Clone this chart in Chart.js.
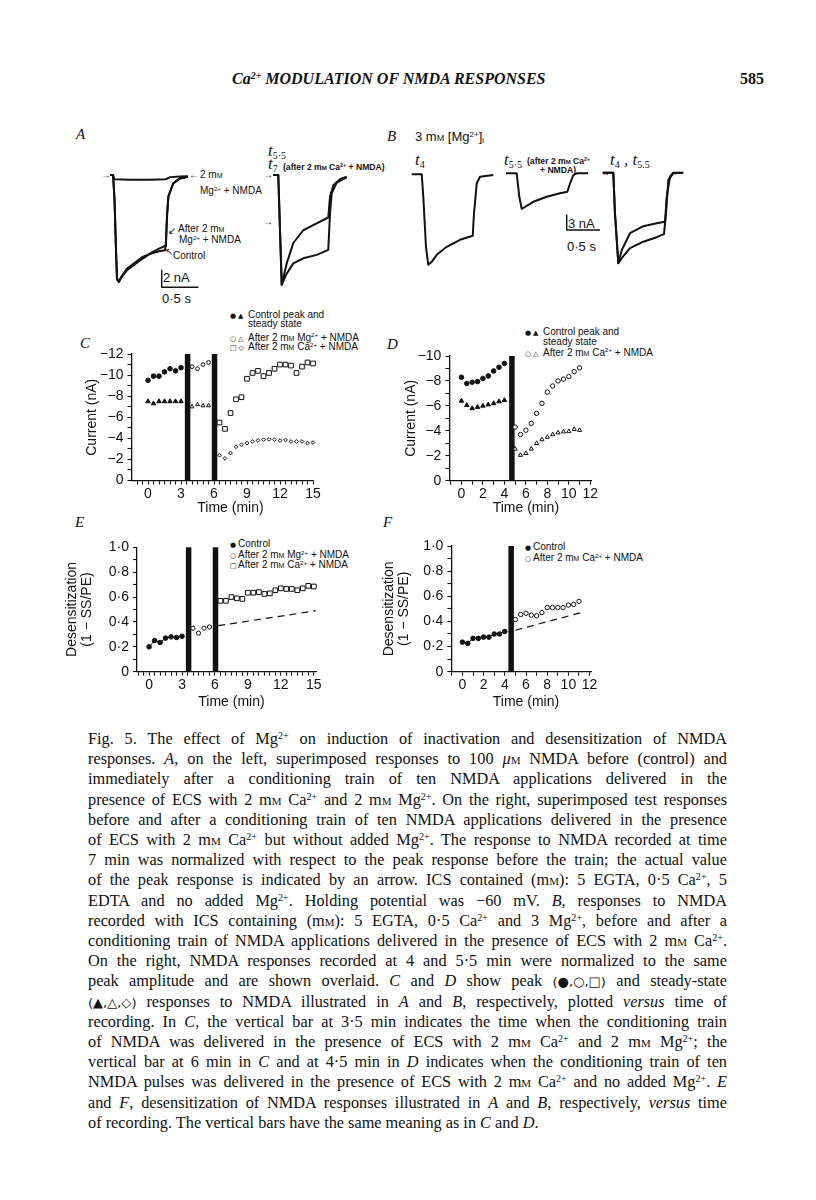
<!DOCTYPE html>
<html>
<head>
<meta charset="utf-8">
<script src="https://cdn.jsdelivr.net/npm/chart.js@4.4.1/dist/chart.umd.min.js"></script>
<style>
  body { margin: 0; background: #fff; }
  #page { position: relative; width: 816px; height: 1200px; overflow: hidden; color: #111;
          font-family: "Liberation Sans", Arial, sans-serif; }
  canvas { position: absolute; }
  .t { position: absolute; white-space: nowrap; line-height: 1; transform: translateY(-50%); }
  sup { font-size: 0.62em; vertical-align: 0; position: relative; top: -0.5em; }
  sub { font-size: 0.62em; vertical-align: 0; position: relative; top: 0.3em; }
  .sc { font-variant: small-caps; }
  .hd { font: italic bold 16px "Liberation Serif", serif; }
  .pg { font: bold 16px "Liberation Serif", serif; }
  .pl { font: italic 15px "Liberation Serif", serif; }
  .ti { font: italic 17px "Liberation Serif", serif; }
  .ti sub { font-size: 10px; font-style: normal; }
  .an { font-size: 10px; }
  .sm { font-size: 8.6px; font-weight: bold; }
  .sb { font-size: 13px; }
  .lg { font-size: 10px; }
  .sy { font-family: "DejaVu Sans", sans-serif; font-size: 7px; letter-spacing: 2px; }
  .cl { position: absolute; left: 88px; width: 639px; font: 16.3px "Liberation Serif", serif;
        text-align: justify; text-align-last: justify; line-height: 1; transform: translateY(-50%); }
  .cl.last { text-align-last: left; }
  .nb { display: inline-block; font-family: "DejaVu Sans", sans-serif; font-size: 0.8em; }
</style>
</head>
<body>
<div id="page">
  <div class="t hd" style="left:232px;top:79px">Ca<sup>2+</sup> MODULATION OF NMDA RESPONSES</div>
  <div class="t pg" style="left:740px;top:79px">585</div>

  <div class="t pl" style="left:76px;top:134px">A</div>
  <div class="t pl" style="left:387px;top:136px">B</div>
  <div class="t pl" style="left:80px;top:343px">C</div>
  <div class="t pl" style="left:387px;top:344px">D</div>
  <div class="t pl" style="left:75px;top:522px">E</div>
  <div class="t pl" style="left:383px;top:522px">F</div>

  <!-- panel A annotations -->
  <div class="t an" style="left:101px;top:175px">→</div>
  <div class="t an" style="left:189px;top:175px">←</div>
  <div class="t an" style="left:200px;top:175px">2 m<span class="sc">m</span></div>
  <div class="t an" style="left:200px;top:191px">Mg<sup>2+</sup> + NMDA</div>
  <div class="t an" style="left:168px;top:231px">↙</div>
  <div class="t an" style="left:178px;top:229px">After 2 m<span class="sc">m</span></div>
  <div class="t an" style="left:179px;top:240px">Mg<sup>2+</sup> + NMDA</div>
  <div class="t an" style="left:165px;top:252px">↖</div>
  <div class="t an" style="left:173px;top:256px">Control</div>
  <div class="t sb" style="left:163px;top:277px">2 nA</div>
  <div class="t sb" style="left:162px;top:298px">0·5 s</div>
  <div class="t ti" style="left:268px;top:151px">t<sub>5·5</sub></div>
  <div class="t ti" style="left:268px;top:164px">t<sub>7</sub></div>
  <div class="t sm" style="left:283px;top:167px">(after 2 m<span class="sc">m</span> Ca<sup>2+</sup> + NMDA)</div>
  <div class="t an" style="left:263px;top:175px">→</div>
  <div class="t an" style="left:263px;top:222px">→</div>

  <!-- panel B annotations -->
  <div class="t sb" style="left:415px;top:137px">3 m<span class="sc">m</span> [Mg<sup>2+</sup>]<sub>i</sub></div>
  <div class="t ti" style="left:415px;top:160px">t<sub>4</sub></div>
  <div class="t ti" style="left:504px;top:160px">t<sub>5·5</sub></div>
  <div class="t sm" style="left:527px;top:160.5px">(after 2 m<span class="sc">m</span> Ca<sup>2+</sup></div>
  <div class="t sm" style="left:540px;top:169.5px">+ NMDA)</div>
  <div class="t ti" style="left:610px;top:160px">t<sub>4</sub> , t<sub>5.5</sub></div>
  <div class="t an" style="left:600px;top:173px">→</div>
  <div class="t sb" style="left:568px;top:223px">3 nA</div>
  <div class="t sb" style="left:567px;top:246px">0·5 s</div>

  <!-- legends -->
  <div class="t lg" style="left:230px;top:315px"><span class="sy">●▲</span></div>
  <div class="t lg" style="left:248px;top:315px">Control peak and</div>
  <div class="t lg" style="left:248px;top:324px">steady state</div>
  <div class="t lg" style="left:230px;top:337.5px"><span class="sy">○△</span></div>
  <div class="t lg" style="left:248px;top:337.5px">After 2 m<span class="sc">m</span> Mg<sup>2+</sup> + NMDA</div>
  <div class="t lg" style="left:230px;top:347px"><span class="sy">□◇</span></div>
  <div class="t lg" style="left:248px;top:347px">After 2 m<span class="sc">m</span> Ca<sup>2+</sup> + NMDA</div>

  <div class="t lg" style="left:525px;top:332px"><span class="sy">●▲</span></div>
  <div class="t lg" style="left:543px;top:332px">Control peak and</div>
  <div class="t lg" style="left:543px;top:342px">steady state</div>
  <div class="t lg" style="left:525px;top:352.5px"><span class="sy">○△</span></div>
  <div class="t lg" style="left:543px;top:352.5px">After 2 m<span class="sc">m</span> Ca<sup>2+</sup> + NMDA</div>

  <div class="t lg" style="left:230px;top:544px"><span class="sy">●</span></div>
  <div class="t lg" style="left:238px;top:544px">Control</div>
  <div class="t lg" style="left:230px;top:555px"><span class="sy">○</span></div>
  <div class="t lg" style="left:238px;top:555px">After 2 m<span class="sc">m</span> Mg<sup>2+</sup> + NMDA</div>
  <div class="t lg" style="left:230px;top:565px"><span class="sy">□</span></div>
  <div class="t lg" style="left:238px;top:565px">After 2 m<span class="sc">m</span> Ca<sup>2+</sup> + NMDA</div>

  <div class="t lg" style="left:525px;top:547px"><span class="sy">●</span></div>
  <div class="t lg" style="left:533px;top:547px">Control</div>
  <div class="t lg" style="left:525px;top:558px"><span class="sy">○</span></div>
  <div class="t lg" style="left:533px;top:558px">After 2 m<span class="sc">m</span> Ca<sup>2+</sup> + NMDA</div>

  <canvas id="a1"></canvas><canvas id="a2"></canvas>
  <canvas id="b1"></canvas><canvas id="b2"></canvas><canvas id="b3"></canvas>
  <canvas id="cC"></canvas><canvas id="cD"></canvas><canvas id="cE"></canvas><canvas id="cF"></canvas>

  <!-- caption -->
  <div class="cl" style="top:739px">Fig. 5. The effect of Mg<sup>2+</sup> on induction of inactivation and desensitization of NMDA</div>
  <div class="cl" style="top:759.2px">responses. <i>A</i>, on the left, superimposed responses to 100 <i>μ</i><span class="sc">m</span> NMDA before (control) and</div>
  <div class="cl" style="top:779.4px">immediately after a conditioning train of ten NMDA applications delivered in the</div>
  <div class="cl" style="top:799.6px">presence of ECS with 2 m<span class="sc">m</span> Ca<sup>2+</sup> and 2 m<span class="sc">m</span> Mg<sup>2+</sup>. On the right, superimposed test responses</div>
  <div class="cl" style="top:819.8px">before and after a conditioning train of ten NMDA applications delivered in the presence</div>
  <div class="cl" style="top:840px">of ECS with 2 m<span class="sc">m</span> Ca<sup>2+</sup> but without added Mg<sup>2+</sup>. The response to NMDA recorded at time</div>
  <div class="cl" style="top:860.2px">7 min was normalized with respect to the peak response before the train; the actual value</div>
  <div class="cl" style="top:880.4px">of the peak response is indicated by an arrow. ICS contained (m<span class="sc">m</span>): 5 EGTA, 0·5 Ca<sup>2+</sup>, 5</div>
  <div class="cl" style="top:900.6px">EDTA and no added Mg<sup>2+</sup>. Holding potential was −60 mV. <i>B</i>, responses to NMDA</div>
  <div class="cl" style="top:920.8px">recorded with ICS containing (m<span class="sc">m</span>): 5 EGTA, 0·5 Ca<sup>2+</sup> and 3 Mg<sup>2+</sup>, before and after a</div>
  <div class="cl" style="top:941px">conditioning train of NMDA applications delivered in the presence of ECS with 2 m<span class="sc">m</span> Ca<sup>2+</sup>.</div>
  <div class="cl" style="top:961.2px">On the right, NMDA responses recorded at 4 and 5·5 min were normalized to the same</div>
  <div class="cl" style="top:981.4px">peak amplitude and are shown overlaid. <i>C</i> and <i>D</i> show peak <span class="nb">(●,○,□)</span> and steady-state</div>
  <div class="cl" style="top:1001.6px"><span class="nb">(▲,△,◇)</span> responses to NMDA illustrated in <i>A</i> and <i>B</i>, respectively, plotted <i>versus</i> time of</div>
  <div class="cl" style="top:1021.8px">recording. In <i>C</i>, the vertical bar at 3·5 min indicates the time when the conditioning train</div>
  <div class="cl" style="top:1042px">of NMDA was delivered in the presence of ECS with 2 m<span class="sc">m</span> Ca<sup>2+</sup> and 2 m<span class="sc">m</span> Mg<sup>2+</sup>; the</div>
  <div class="cl" style="top:1062.2px">vertical bar at 6 min in <i>C</i> and at 4·5 min in <i>D</i> indicates when the conditioning train of ten</div>
  <div class="cl" style="top:1082.4px">NMDA pulses was delivered in the presence of ECS with 2 m<span class="sc">m</span> Ca<sup>2+</sup> and no added Mg<sup>2+</sup>. <i>E</i></div>
  <div class="cl" style="top:1102.6px">and <i>F</i>, desensitization of NMDA responses illustrated in <i>A</i> and <i>B</i>, respectively, <i>versus</i> time</div>
  <div class="cl last" style="top:1122.8px">of recording. The vertical bars have the same meaning as in <i>C</i> and <i>D</i>.</div>
</div>

<script>
// ---- current traces, [time (s), current (nA)] ----
const aControl = [[0.07,0],[0.11,0],[0.13,-2.9],[0.15,-8.8],[0.164,-12.3],[0.19,-12.6],[0.22,-12.1],[0.3,-11.2],[0.41,-10.5],[0.52,-9.8],[0.64,-9.1],[0.75,-8.6],[0.82,-8.35],[0.832,-7.6],[0.846,-4.7],[0.864,-2.55],[0.93,-1.0],[1.02,-0.4],[1.13,-0.2]];
const aAfterMg = [[0.07,0],[0.11,0],[0.13,-2.9],[0.15,-8.8],[0.164,-12.2],[0.19,-12.5],[0.22,-12.0],[0.3,-11.0],[0.41,-10.3],[0.52,-9.6],[0.64,-9.2],[0.75,-8.95],[0.82,-8.85],[0.834,-7.6],[0.848,-4.7],[0.866,-2.5],[0.93,-1.0],[1.02,-0.4],[1.13,-0.2]];
const aMgNmda = [[0.07,0],[0.11,0],[0.125,-0.5],[0.35,-0.55],[0.6,-0.55],[0.83,-0.5],[0.89,-0.25],[1.02,-0.18],[1.13,-0.15]];
const aT55 = [[0,0],[0.072,0],[0.119,-12.9],[0.187,-10.4],[0.277,-8.0],[0.413,-6.5],[0.596,-5.7],[0.754,-5.0],[0.778,-2.55],[0.823,-1.2],[0.914,-0.5],[1.005,-0.2]];
const aT7 = [[0,0],[0.072,0],[0.119,-12.9],[0.187,-11.6],[0.277,-10.4],[0.413,-9.8],[0.596,-9.4],[0.754,-8.8],[0.778,-4.5],[0.801,-2.15],[0.869,-0.9],[1.005,-0.27]];
const bT4 = [[0,0],[0.15,0],[0.174,-4.5],[0.214,-14.5],[0.249,-18.1],[0.3,-17.5],[0.375,-16.1],[0.525,-14.5],[0.724,-13.1],[0.915,-12.3],[0.934,-7.8],[0.975,-1.8],[1.024,-0.5],[1.223,-0.15]];
const bT55 = [[0,0],[0.16,0],[0.2,-4.7],[0.235,-7.1],[0.285,-6.7],[0.41,-5.7],[0.61,-4.7],[0.81,-4.0],[0.92,-3.7],[0.96,-2.0],[1.01,-0.35],[1.06,0],[1.23,0]];
const bOverT55 = [[0,0],[0.159,0],[0.184,-8.1],[0.234,-18.1],[0.285,-15.5],[0.409,-12.1],[0.609,-10.7],[0.81,-10.1],[0.934,-9.8],[0.96,-4.8],[1.009,-0.8],[1.058,0],[1.208,0]];
const bOverT4 = [[0,0],[0.159,0],[0.184,-8.1],[0.234,-18.1],[0.285,-17.1],[0.409,-15.1],[0.609,-13.8],[0.81,-12.9],[0.919,-12.3],[0.949,-8.1],[0.984,-1.5],[1.058,-0.1],[1.208,0]];
// scale bars: corner [s, nA] and size [s, nA]
const aScaleAt = [0.774, -13.2], aScaleSize = [0.5, 2];
const bScaleAt = [0.91, -11.34], bScaleSize = [0.5, 3];

// ---- C: peak / steady-state current (nA) vs time (min) ----
const cCtrlT = [0, 0.5, 1, 1.5, 2, 2.5, 3];
const cCtrlPeak = [-9.5, -9.9, -9.9, -10.3, -10.6, -10.4, -10.7];
const cCtrlSS = [-7.5, -7.3, -7.5, -7.5, -7.5, -7.5, -7.5];
const cMgT = [4, 4.5, 5, 5.5];
const cMgPeak = [-10.8, -10.6, -11.0, -11.2];
const cMgSS = [-7.0, -7.2, -7.1, -7.1];
const cCaT = [6.5, 7, 7.5, 8, 8.5, 9, 9.5, 10, 10.5, 11, 11.5, 12, 12.5, 13, 13.5, 14, 14.5, 15];
const cCaPeak = [-5.5, -4.9, -6.4, -7.7, -7.9, -9.65, -10.2, -10.4, -9.9, -10.2, -10.6, -11.0, -11.0, -10.9, -10.2, -10.8, -11.2, -11.1];
const cCaSS = [-2.4, -2.1, -2.6, -3.2, -3.4, -3.55, -3.7, -3.8, -3.87, -3.9, -3.87, -3.78, -3.84, -3.7, -3.7, -3.7, -3.55, -3.6];
const cBars = [3.6, 6.05];

// ---- D ----
const dCtrlT = [0, 0.5, 1, 1.5, 2, 2.5, 3, 3.5, 4];
const dCtrlPeak = [-8.3, -7.8, -7.9, -7.95, -8.2, -8.4, -8.8, -9.1, -9.4];
const dCtrlSS = [-6.4, -6.05, -5.8, -5.9, -6.0, -6.1, -6.2, -6.35, -6.45];
const dCaT = [5, 5.5, 6, 6.5, 7, 7.5, 8, 8.5, 9, 9.5, 10, 10.5, 11];
const dCaPeak = [-4.3, -3.7, -4.05, -4.6, -5.4, -6.2, -7.1, -7.6, -8.0, -8.15, -8.35, -8.75, -9.05];
const dCaSS = [-2.55, -2.05, -2.2, -2.55, -3.0, -3.3, -3.5, -3.7, -3.85, -3.93, -3.95, -4.13, -4.05];
const dBars = [4.7];

// ---- E: desensitization (1 - SS/PE) ----
const eCtrlT = [0, 0.5, 1, 1.5, 2, 2.5, 3];
const eCtrl = [0.2, 0.25, 0.235, 0.27, 0.28, 0.275, 0.285];
const eMgT = [4, 4.5, 5, 5.5];
const eMg = [0.35, 0.31, 0.35, 0.36];
const eCaT = [6.5, 7, 7.5, 8, 8.5, 9, 9.5, 10, 10.5, 11, 11.5, 12, 12.5, 13, 13.5, 14, 14.5, 15];
const eCa = [0.57, 0.57, 0.6, 0.59, 0.585, 0.635, 0.635, 0.64, 0.625, 0.63, 0.655, 0.67, 0.665, 0.665, 0.655, 0.67, 0.69, 0.685];
const eFitT = [6.3, 15.2], eFit = [0.37, 0.49];
const eBars = [3.6, 6.05];

// ---- F ----
const fCtrlT = [0, 0.5, 1, 1.5, 2, 2.5, 3, 3.5, 4];
const fCtrl = [0.235, 0.225, 0.265, 0.265, 0.275, 0.275, 0.3, 0.3, 0.32];
const fCaT = [5, 5.5, 6, 6.5, 7, 7.5, 8, 8.5, 9, 9.5, 10, 10.5, 11];
const fCa = [0.415, 0.455, 0.465, 0.45, 0.445, 0.47, 0.51, 0.51, 0.51, 0.51, 0.53, 0.535, 0.56];
const fFitT = [5, 11.2], fFit = [0.33, 0.47];
const fBars = [4.6];

// ---- ticks ----
const cXTicks = [-1, -0.5, 0, 0.5, 1, 1.5, 2, 2.5, 3, 3.5, 4, 4.5, 5, 5.5, 6, 6.5, 7, 7.5, 8, 8.5, 9, 9.5, 10, 10.5, 11, 11.5, 12, 12.5, 13, 13.5, 14, 14.5, 15];
const cXLabelVals = [0, 3, 6, 9, 12, 15];
const cXLabels = ['0', '3', '6', '9', '12', '15'];
const cYTicks = [0, -1, -2, -3, -4, -5, -6, -7, -8, -9, -10, -11, -12];
const cYLabelVals = [0, -2, -4, -6, -8, -10, -12];
const cYLabels = ['0', '−2', '−4', '−6', '−8', '−10', '−12'];
const dXTicks = [-1, 0, 1, 2, 3, 4, 5, 6, 7, 8, 9, 10, 11, 12];
const dXLabelVals = [0, 2, 4, 6, 8, 10, 12];
const dXLabels = ['0', '2', '4', '6', '8', '10', '12'];
const dYTicks = [0, -1, -2, -3, -4, -5, -6, -7, -8, -9, -10];
const dYLabelVals = [0, -2, -4, -6, -8, -10];
const dYLabels = ['0', '−2', '−4', '−6', '−8', '−10'];
const eYTicks = [0, 0.1, 0.2, 0.3, 0.4, 0.5, 0.6, 0.7, 0.8, 0.9, 1.0];
const eYLabelVals = [0, 0.2, 0.4, 0.6, 0.8, 1.0];
const eYLabels = ['0', '0·2', '0·4', '0·6', '0·8', '1·0'];

const INK = '#111';
Chart.defaults.font.family = "'Liberation Sans', Arial, sans-serif";
Chart.defaults.color = INK;

function place(cv, box) {
  cv.width = box.w; cv.height = box.h;
  cv.style.left = box.x + 'px'; cv.style.top = box.y + 'px';
}
const xy = pairs => pairs.map(p => ({ x: p[0], y: p[1] }));
const pts = (t, v) => t.map((x, i) => ({ x: x, y: v[i] }));

function traceChart(id, box, origin, pxPerS, pxPerNA, lines) {
  const cv = document.getElementById(id);
  place(cv, box);
  new Chart(cv, {
    type: 'scatter',
    data: {
      datasets: lines.map(l => ({
        data: l.data, showLine: true, borderColor: INK, borderWidth: l.w || 2,
        pointRadius: 0, borderJoinStyle: 'round', borderCapStyle: 'butt', clip: false
      }))
    },
    options: {
      responsive: false, animation: false, devicePixelRatio: 1,
      layout: { padding: 0 },
      plugins: { legend: { display: false }, tooltip: { enabled: false } },
      scales: {
        x: { type: 'linear', display: false, min: (box.x - origin.x) / pxPerS, max: (box.x + box.w - origin.x) / pxPerS },
        y: { type: 'linear', display: false, min: -(box.y + box.h - origin.y) / pxPerNA, max: (origin.y - box.y) / pxPerNA }
      }
    }
  });
}
function scaleBar(at, size) {
  return { data: xy([[at[0], at[1] + size[1]], at, [at[0] + size[0], at[1]]]), w: 1.4 };
}

traceChart('a1', { x: 95, y: 165, w: 110, h: 130 }, { x: 105, y: 175 }, 73.3, 8.5,
  [{ data: xy(aMgNmda) }, { data: xy(aControl) }, { data: xy(aAfterMg) }, scaleBar(aScaleAt, aScaleSize)]);
traceChart('a2', { x: 270, y: 165, w: 85, h: 130 }, { x: 273, y: 175 }, 73.3, 8.5,
  [{ data: xy(aT55) }, { data: xy(aT7) }]);
traceChart('b1', { x: 405, y: 165, w: 95, h: 105 }, { x: 411.7, y: 174.3 }, 66.7, 5,
  [{ data: xy(bT4) }]);
traceChart('b2', { x: 500, y: 165, w: 105, h: 75 }, { x: 506, y: 173.3 }, 66.7, 5,
  [{ data: xy(bT55) }, scaleBar(bScaleAt, bScaleSize)]);
traceChart('b3', { x: 600, y: 165, w: 92, h: 105 }, { x: 602.7, y: 172.7 }, 66.7, 5,
  [{ data: xy(bOverT55) }, { data: xy(bOverT4) }]);

// ---- scatter panels ----
// x title centred on the labelled time range, drawn through the x scale
const xTitle = {
  id: 'xTitle',
  afterDraw(chart, args, opts) {
    const s = chart.scales.x, ctx = chart.ctx;
    ctx.save();
    ctx.font = "14px 'Liberation Sans', Arial, sans-serif";
    ctx.fillStyle = INK; ctx.textAlign = 'center'; ctx.textBaseline = 'middle';
    ctx.fillText(opts.text, s.getPixelForValue(opts.at), chart.height - 8);
    ctx.restore();
  }
};
function lbl(vals, texts) {
  return v => {
    const i = vals.findIndex(u => Math.abs(u - v) < 1e-6);
    return i < 0 ? '' : texts[i];
  };
}
function axis(a, title, fit) {
  return {
    type: 'linear', min: a.min, max: a.max, reverse: !!a.reverse,
    afterBuildTicks: s => { s.ticks = a.ticks.map(v => ({ value: v })); },
    afterFit: fit,
    border: { display: true, color: INK, width: 1.3 },
    grid: { drawOnChartArea: false, drawTicks: true, tickLength: 4, tickColor: INK, tickWidth: 1.1 },
    ticks: { autoSkip: false, maxRotation: 0, padding: a.pad, color: INK, font: { size: 14 },
             callback: lbl(a.vals, a.labels) },
    title: { display: !!title, text: title, color: INK, padding: 0, font: { size: 14, lineHeight: 1.1 } }
  };
}
function marks(t, v, style, r, filled, line) {
  return {
    data: pts(t, v), pointStyle: style, pointRadius: r, pointBorderWidth: 1,
    backgroundColor: filled ? INK : '#fff', pointBackgroundColor: filled ? INK : '#fff',
    borderColor: INK, pointBorderColor: INK, borderWidth: 1,
    showLine: !!line, clip: false, order: 1
  };
}
function bars(times, y0, y1) {
  return times.map(t => ({
    data: [{ x: t, y: y0 }, { x: t, y: y1 }], showLine: true, borderColor: INK, borderWidth: 5.5,
    pointRadius: 0, borderCapStyle: 'butt', clip: false, order: 5
  }));
}
function fitLine(t, v) {
  return { data: pts(t, v), showLine: true, borderColor: INK, borderWidth: 1.2, borderDash: [7, 5],
           pointRadius: 0, clip: false, order: 4 };
}
function panel(id, p) {
  const cv = document.getElementById(id);
  place(cv, p.box);
  const lv = p.x.vals;
  new Chart(cv, {
    type: 'scatter',
    data: { datasets: p.datasets },
    plugins: [xTitle],
    options: {
      responsive: false, animation: false, devicePixelRatio: 1,
      layout: { padding: { left: 0, bottom: 0, top: p.area.t - p.box.y, right: p.box.x + p.box.w - p.area.r } },
      plugins: {
        legend: { display: false }, tooltip: { enabled: false },
        xTitle: { text: 'Time (min)', at: (lv[0] + lv[lv.length - 1]) / 2 }
      },
      scales: {
        x: axis(p.x, '', s => { s.height = p.box.y + p.box.h - p.area.b; }),
        y: axis(p.y, p.yTitle, s => { s.width = p.area.l - p.box.x; })
      }
    }
  });
}

panel('cC', {
  box: { x: 84, y: 336, w: 250, h: 180 }, area: { l: 131.5, t: 354, r: 313, b: 480.5 },
  x: { min: -1.5, max: 15, ticks: cXTicks, vals: cXLabelVals, labels: cXLabels, pad: 1 },
  y: { min: -12, max: 0, reverse: true, ticks: cYTicks, vals: cYLabelVals, labels: cYLabels, pad: 4 },
  yTitle: 'Current (nA)',
  datasets: [
    marks(cCtrlT, cCtrlPeak, 'circle', 2.3, true),
    marks(cCtrlT, cCtrlSS, 'triangle', 2.6, true),
    marks(cMgT, cMgPeak, 'circle', 1.9, false),
    marks(cMgT, cMgSS, 'triangle', 2.3, false),
    marks(cCaT, cCaPeak, 'rect', 3.3, false),
    marks(cCaT, cCaSS, 'rectRot', 1.9, false),
    ...bars(cBars, 0, -12)
  ]
});

panel('cD', {
  box: { x: 402.6, y: 336, w: 210, h: 180 }, area: { l: 449, t: 356, r: 591.5, b: 480.7 },
  x: { min: -1.12, max: 12.15, ticks: dXTicks, vals: dXLabelVals, labels: dXLabels, pad: 1 },
  y: { min: -10, max: 0, reverse: true, ticks: dYTicks, vals: dYLabelVals, labels: dYLabels, pad: 4 },
  yTitle: 'Current (nA)',
  datasets: [
    marks(dCtrlT, dCtrlPeak, 'circle', 2.3, true),
    marks(dCtrlT, dCtrlSS, 'triangle', 2.6, true),
    marks(dCaT, dCaPeak, 'circle', 2.2, false),
    marks(dCaT, dCaSS, 'triangle', 2.4, false),
    ...bars(dBars, 0, -10)
  ]
});

panel('cE', {
  box: { x: 64.3, y: 530, w: 270, h: 180 }, area: { l: 137.3, t: 547.3, r: 316.3, b: 671.7 },
  x: { min: -1.1, max: 15.2, ticks: cXTicks, vals: cXLabelVals, labels: cXLabels, pad: 1 },
  y: { min: 0, max: 1, ticks: eYTicks, vals: eYLabelVals, labels: eYLabels, pad: 4 },
  yTitle: ['Desensitization', '(1 − SS/PE)'],
  datasets: [
    marks(eCtrlT, eCtrl, 'circle', 2.3, true, true),
    marks(eMgT, eMg, 'circle', 2.1, false),
    marks(eCaT, eCa, 'rect', 3.3, false),
    fitLine(eFitT, eFit),
    ...bars(eBars, 0, 1)
  ]
});

panel('cF', {
  box: { x: 381.3, y: 530, w: 228, h: 180 }, area: { l: 451.7, t: 546, r: 592, b: 671.7 },
  x: { min: -1.04, max: 12.2, ticks: dXTicks, vals: dXLabelVals, labels: dXLabels, pad: 1 },
  y: { min: 0, max: 1, ticks: eYTicks, vals: eYLabelVals, labels: eYLabels, pad: 4 },
  yTitle: ['Desensitization', '(1 − SS/PE)'],
  datasets: [
    marks(fCtrlT, fCtrl, 'circle', 2.3, true, true),
    marks(fCaT, fCa, 'circle', 2.2, false),
    fitLine(fFitT, fFit),
    ...bars(fBars, 0, 1)
  ]
});
</script>
</body>
</html>
